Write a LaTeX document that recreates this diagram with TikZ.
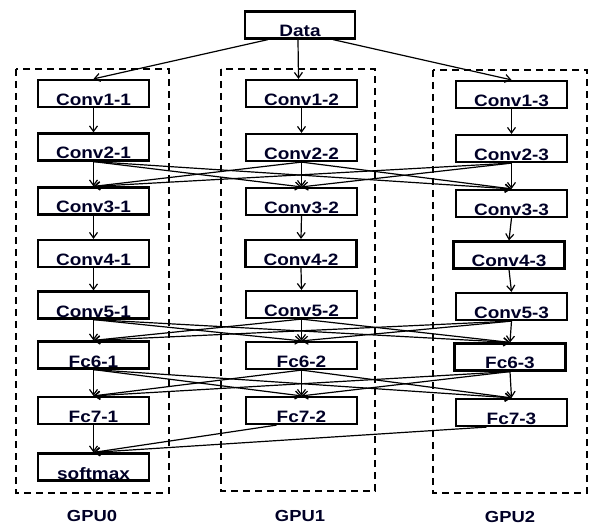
\documentclass[tikz,border=0pt]{standalone}
\usepackage{fontspec}
\setmainfont{Liberation Sans}[FakeStretch=1.15]
\usetikzlibrary{arrows.meta}
\begin{document}
\begin{tikzpicture}[x=1pt,y=-1pt,
  box/.style={draw=black,line width=2.2pt,minimum width=111pt,inner xsep=0pt,inner ysep=1.5pt,
    text height=24pt,text depth=0pt,font=\fontsize{16.5}{18}\selectfont\bfseries,text=black!85!blue},
  conn/.style={line width=1.2pt,-{Straight Barb[length=5.5pt,width=8pt,line width=1.2pt]}},
  gpu/.style={draw=black,line width=1.8pt,dash pattern=on 7pt off 5pt},
  gpulabel/.style={font=\fontsize{16}{18}\selectfont\bfseries,text=black!85!blue,anchor=base}]
\useasboundingbox (0,0) rectangle (590,524);
% GPU frames
\draw[gpu] (16,69) rectangle (169,493);
\draw[gpu] (221,69) rectangle (375,491);
\draw[gpu] (433,70) rectangle (587,493);
% nodes
\node[box,minimum width=110pt] (data) at (300,25) {Data};
\node[box] (c11) at (93.5,93.5) {Conv1-1};
\node[box] (c21) at (93.5,147) {Conv2-1};
\node[box] (c31) at (93.5,201) {Conv3-1};
\node[box] (c41) at (93.5,253.5) {Conv4-1};
\node[box] (c51) at (93.5,305) {Conv5-1};
\node[box] (f61) at (93.5,355) {Fc6-1};
\node[box] (f71) at (93.5,410.5) {Fc7-1};
\node[box] (sm) at (93.5,467) {softmax};
\node[box,minimum width=111pt] (c12) at (301.5,93.5) {Conv1-2};
\node[box,minimum width=111pt] (c22) at (301.5,147.5) {Conv2-2};
\node[box,minimum width=111pt] (c32) at (301.5,201.5) {Conv3-2};
\node[box,minimum width=111pt] (c42) at (301,253.5) {Conv4-2};
\node[box,minimum width=111pt] (c52) at (301.5,304.5) {Conv5-2};
\node[box,minimum width=111pt] (f62) at (301.5,355.5) {Fc6-2};
\node[box,minimum width=111pt] (f72) at (301.5,410.5) {Fc7-2};
\node[box] (c13) at (511.5,94.5) {Conv1-3};
\node[box] (c23) at (511.5,148.5) {Conv2-3};
\node[box] (c33) at (511.5,203.5) {Conv3-3};
\node[box] (c43) at (509,255) {Conv4-3};
\node[box] (c53) at (511.5,306.5) {Conv5-3};
\node[box] (f63) at (510,357) {Fc6-3};
\node[box] (f73) at (511.5,412.5) {Fc7-3};
% GPU labels
\node[gpulabel] (g0) at (92,521) {GPU0};
\node[gpulabel] (g1) at (300,521) {GPU1};
\node[gpulabel] (g2) at (510,522) {GPU2};
% data fan-out
\draw[conn] ([xshift=-32pt]data.south) -- (c11.north);
\draw[conn] ([xshift=-2pt]data.south) -- ([xshift=-3pt]c12.north);
\draw[conn] ([xshift=33pt]data.south) -- (c13.north);
% straight chains
\foreach \a/\b in {c11/c21,c21/c31,c31/c41,c41/c51,c51/f61,f61/f71,f71/sm,
                   c12/c22,c22/c32,c32/c42,c42/c52,c52/f62,f62/f72,
                   c13/c23,c23/c33,c33/c43,c43/c53,c53/f63,f63/f73}
  \draw[conn] (\a.south) -- (\b.north);
% cross connections
\foreach \p/\q in {c2/c3,c5/f6,f6/f7}{
  \draw[conn] (\p1.south) -- (\q2.north);
  \draw[conn] (\p1.south) -- (\q3.north);
  \draw[conn] (\p2.south) -- (\q1.north);
  \draw[conn] (\p2.south) -- (\q3.north);
  \draw[conn] (\p3.south) -- (\q1.north);
  \draw[conn] (\p3.south) -- (\q2.north);
}
% to softmax
\draw[conn] ([xshift=-25pt]f72.south) -- (sm.north);
\draw[conn] ([xshift=-25pt]f73.south) -- (sm.north);
\end{tikzpicture}
\end{document}
